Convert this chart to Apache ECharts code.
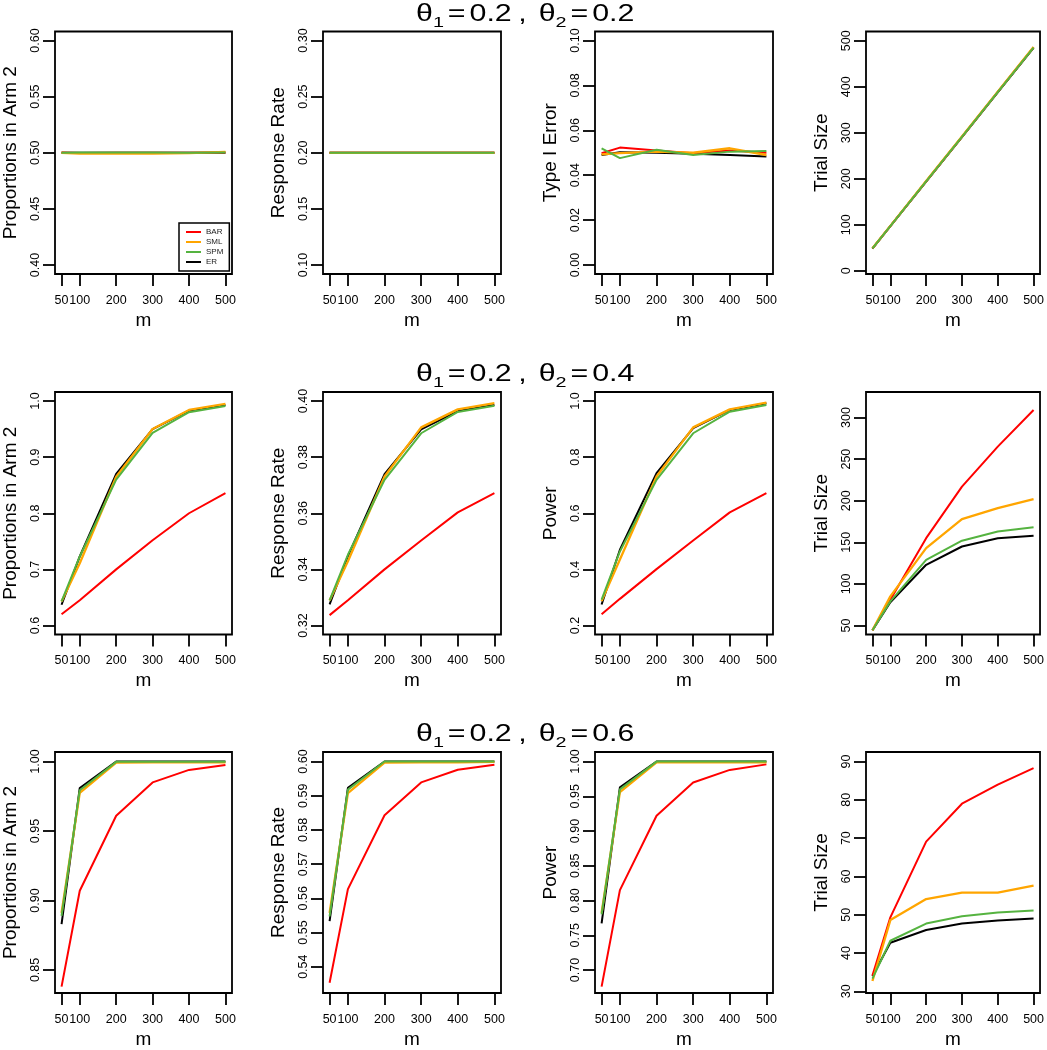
<!DOCTYPE html>
<html>
<head>
<meta charset="utf-8">
<script src="https://cdn.jsdelivr.net/npm/echarts@6/dist/echarts.min.js"></script>
<style>
html,body{margin:0;padding:0;background:#fff;}
#chart{width:1047px;height:1050px;}
</style>
</head>
<body>
<div id="chart"></div>
<script>
// ---------- DATA ----------
const m = [50, 100, 200, 300, 400, 500];
const methods = ['BAR', 'SML', 'SPM', 'ER'];
const theta1 = '0.2';
const theta2 = ['0.2', '0.4', '0.6'];

// each array: [BAR, SML, SPM, ER]
// theta2 = 0.2
const prop02 = [
  [0.5002, 0.4998, 0.5000, 0.5000, 0.5000, 0.5003],
  [0.4998, 0.4993, 0.4995, 0.4993, 0.4996, 0.5008],
  [0.4999, 0.5002, 0.5003, 0.5002, 0.5001, 0.5002],
  [0.5001, 0.5000, 0.5000, 0.5000, 0.5000, 0.5000]
];
const resp02 = [
  [0.2000, 0.2000, 0.2000, 0.2000, 0.2000, 0.2000],
  [0.1999, 0.1999, 0.1999, 0.1999, 0.1999, 0.1999],
  [0.2001, 0.2000, 0.2001, 0.2000, 0.2001, 0.2000],
  [0.2000, 0.2000, 0.2000, 0.2000, 0.2000, 0.2000]
];
const err02 = [
  [0.0498, 0.0523, 0.0510, 0.0498, 0.0510, 0.0500],
  [0.0493, 0.0498, 0.0505, 0.0500, 0.0520, 0.0490],
  [0.0520, 0.0476, 0.0513, 0.0490, 0.0505, 0.0508],
  [0.0490, 0.0502, 0.0500, 0.0495, 0.0490, 0.0483]
];
const size02 = [
  [48.6, 97.3, 194.5, 291.2, 388.6, 485.3],
  [48.8, 97.6, 195.0, 292.0, 389.3, 486.4],
  [48.5, 97.1, 194.3, 291.0, 388.2, 485.0],
  [48.3, 96.8, 193.8, 290.5, 387.6, 484.2]
];
// theta2 = 0.4
const prop04 = [
  [0.620, 0.645, 0.700, 0.752, 0.800, 0.836],
  [0.643, 0.711, 0.865, 0.950, 0.984, 0.995],
  [0.643, 0.723, 0.860, 0.943, 0.980, 0.991],
  [0.637, 0.723, 0.870, 0.950, 0.983, 0.993]
];
const resp04 = [
  [0.3237, 0.3290, 0.3400, 0.3503, 0.3603, 0.3672],
  [0.3289, 0.3429, 0.3731, 0.3906, 0.3970, 0.3992],
  [0.3290, 0.3452, 0.3719, 0.3885, 0.3961, 0.3983],
  [0.3275, 0.3447, 0.3739, 0.3899, 0.3964, 0.3986]
];
const pow04 = [
  [0.240, 0.295, 0.401, 0.503, 0.603, 0.672],
  [0.287, 0.435, 0.731, 0.906, 0.970, 0.994],
  [0.292, 0.464, 0.719, 0.885, 0.962, 0.986],
  [0.275, 0.470, 0.743, 0.903, 0.968, 0.992]
];
const size04 = [
  [44.4, 81, 155, 217, 265, 309],
  [44.4, 85, 143, 178, 191, 202],
  [44.4, 79, 129, 152, 163, 168],
  [44.4, 78, 123, 145, 155, 158]
];
// theta2 = 0.6
const prop06 = [
  [0.838, 0.907, 0.961, 0.985, 0.994, 0.9976],
  [0.891, 0.9775, 0.9993, 0.9994, 0.9994, 0.9995],
  [0.889, 0.9794, 0.9998, 0.9998, 0.9998, 0.9998],
  [0.883, 0.981, 1.000, 1.000, 1.000, 1.000]
];
const resp06 = [
  [0.5353, 0.5627, 0.5843, 0.5939, 0.5976, 0.5991],
  [0.5557, 0.5908, 0.5997, 0.5998, 0.5998, 0.5999],
  [0.5547, 0.5918, 0.6000, 0.6000, 0.6000, 0.6000],
  [0.5533, 0.5923, 0.6000, 0.6000, 0.6000, 0.6000]
];
const pow06 = [
  [0.676, 0.815, 0.922, 0.970, 0.988, 0.996],
  [0.782, 0.956, 0.999, 0.999, 0.999, 0.999],
  [0.780, 0.960, 1.000, 1.000, 1.000, 1.000],
  [0.767, 0.963, 1.000, 1.000, 1.000, 1.000]
];
const size06 = [
  [34.1, 49.3, 69.1, 79.0, 84.0, 88.3],
  [32.7, 48.6, 54.1, 55.8, 55.8, 57.6],
  [33.3, 43.2, 47.7, 49.6, 50.6, 51.1],
  [34.0, 42.7, 46.0, 47.7, 48.5, 49.0]
];

const panelData = [prop02, resp02, err02, size02, prop04, resp04, pow04, size04, prop06, resp06, pow06, size06];
const yNames = [
  'Proportions in Arm 2', 'Response Rate', 'Type I Error', 'Trial Size',
  'Proportions in Arm 2', 'Response Rate', 'Power', 'Trial Size',
  'Proportions in Arm 2', 'Response Rate', 'Power', 'Trial Size'
];
const yTickLabels = [
  ['0.40', '0.45', '0.50', '0.55', '0.60'],
  ['0.10', '0.15', '0.20', '0.25', '0.30'],
  ['0.00', '0.02', '0.04', '0.06', '0.08', '0.10'],
  ['0', '100', '200', '300', '400', '500'],
  ['0.6', '0.7', '0.8', '0.9', '1.0'],
  ['0.32', '0.34', '0.36', '0.38', '0.40'],
  ['0.2', '0.4', '0.6', '0.8', '1.0'],
  ['50', '100', '150', '200', '250', '300'],
  ['0.85', '0.90', '0.95', '1.00'],
  ['0.54', '0.55', '0.56', '0.57', '0.58', '0.59', '0.60'],
  ['0.70', '0.75', '0.80', '0.85', '0.90', '0.95', '1.00'],
  ['30', '40', '50', '60', '70', '80', '90']
];
const xTickLabels = ['50', '100', '200', '300', '400', '500'];

// ---------- STYLE / LAYOUT ----------
const yRanges = [
  [0.392, 0.608], [0.092, 0.308], [-0.004, 0.104], [-7, 520],
  [0.584, 1.016], [0.3168, 0.4032], [0.168, 1.032], [39.2, 330.7],
  [0.8334, 1.0069], [0.5323, 0.6028], [0.6669, 1.0138], [29.56, 92.5]
];
const xRange = [32, 518];
const FONT = "'Liberation Sans', Arial, Helvetica, sans-serif";
const colors = { BAR: '#FF0000', SML: '#FFA500', SPM: '#55B340', ER: '#000000' };
const widths = { BAR: 2, SML: 2.3, SPM: 2, ER: 2 };
const drawOrder = ['ER', 'BAR', 'SML', 'SPM'];
const gridLefts = [54, 323, 595, 866];
const gridTops = [31.5, 392, 752];
const gridW = 178, gridH = 242.5;
const titleTops = [3.5, 363.5, 723.5];

const grids = [], xAxes = [], yAxes = [], series = [], graphics = [];

for (let p = 0; p < 12; p++) {
  const r = Math.floor(p / 4), c = p % 4;
  grids.push({
    left: gridLefts[c], top: gridTops[r], width: gridW, height: gridH,
    show: true, borderColor: '#000', borderWidth: 1.8, backgroundColor: 'transparent'
  });
  xAxes.push({
    gridIndex: p, type: 'value', min: xRange[0], max: xRange[1],
    name: 'm', nameLocation: 'middle', nameGap: 37,
    nameTextStyle: { fontSize: 19, color: '#000', fontFamily: FONT },
    axisLine: { show: false, onZero: false },
    splitLine: { show: false },
    axisTick: { show: true, length: 12, customValues: m, lineStyle: { color: '#000', width: 1.8 } },
    axisLabel: {
      customValues: m, margin: 20, fontSize: 12.5, color: '#000', fontFamily: FONT,
      showMinLabel: true, showMaxLabel: true,
      formatter: v => xTickLabels[m.indexOf(v)] ?? String(v)
    }
  });
  const labs = yTickLabels[p];
  const vals = labs.map(parseFloat);
  yAxes.push({
    gridIndex: p, type: 'value', min: yRanges[p][0], max: yRanges[p][1],
    name: yNames[p], nameLocation: 'middle', nameGap: 35, nameRotate: 90,
    nameTextStyle: { fontSize: 19, color: '#000', fontFamily: FONT },
    axisLine: { show: false, onZero: false },
    splitLine: { show: false },
    axisTick: { show: true, length: 12, customValues: vals, lineStyle: { color: '#000', width: 1.8 } },
    axisLabel: {
      customValues: vals, rotate: 90, margin: 13, fontSize: 12.5, color: '#000', fontFamily: FONT,
      showMinLabel: true, showMaxLabel: true,
      formatter: v => { const i = vals.findIndex(t => Math.abs(t - v) < 1e-9); return i >= 0 ? labs[i] : String(v); }
    }
  });
  drawOrder.forEach(name => {
    const k = methods.indexOf(name);
    series.push({
      type: 'line', name: name, xAxisIndex: p, yAxisIndex: p,
      data: m.map((x, i) => [x, panelData[p][k][i]]),
      showSymbol: false, symbol: 'none', silent: true,
      lineStyle: { color: colors[name], width: widths[name] },
      itemStyle: { color: colors[name] }
    });
  });
}

const baseTok = { fontSize: 23, lineHeight: 30, fontFamily: FONT, fontWeight: 'normal', fill: '#000', color: '#000' };
for (let r = 0; r < 3; r++) {
  graphics.push({
    type: 'text', left: 416, top: titleTops[r], scaleX: 1.32, silent: true,
    style: {
      text: '{t|θ}{s|1}{e|=}{t|' + theta1 + '}{c|,}{t|θ}{s|2}{e|=}{t|' + theta2[r] + '}',
      fontFamily: FONT, fontSize: 23, fill: '#000',
      rich: {
        t: Object.assign({}, baseTok),
        e: Object.assign({}, baseTok, { padding: [0, 3, 0, 3] }),
        c: Object.assign({}, baseTok, { padding: [0, 9, 0, 5] }),
        s: { fontSize: 15, lineHeight: 16, verticalAlign: 'bottom', fontFamily: FONT, fill: '#000', color: '#000' }
      }
    }
  });
}

const chart = echarts.init(document.getElementById('chart'), null, { renderer: 'canvas' });
chart.setOption({
  animation: false,
  backgroundColor: '#fff',
  graphic: graphics,
  grid: grids,
  xAxis: xAxes,
  yAxis: yAxes,
  legend: {
    data: methods, left: 179, top: 223, orient: 'vertical',
    icon: 'rect', itemWidth: 15, itemHeight: 2, itemGap: 0,
    padding: [4, 6, 4, 7], borderColor: '#000', borderWidth: 1.5, backgroundColor: '#fff',
    selectedMode: false, z: 10,
    textStyle: { fontSize: 8, lineHeight: 10, color: '#222', fontFamily: FONT }
  },
  series: series
});
</script>
</body>
</html>
